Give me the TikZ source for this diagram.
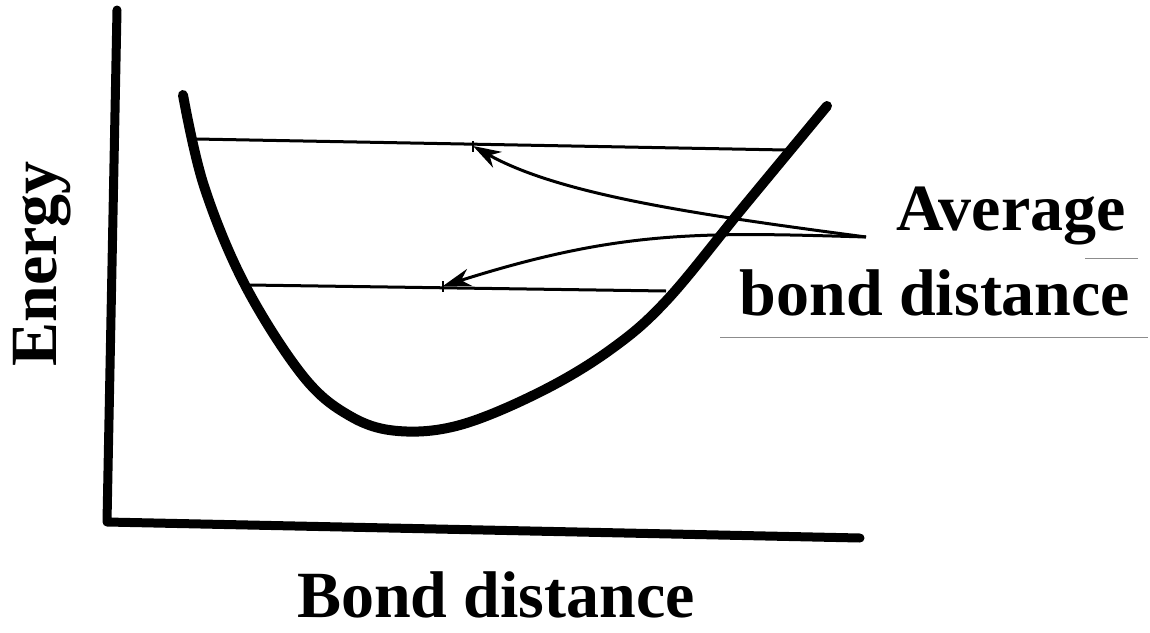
\documentclass[tikz,border=0pt]{standalone}
\usepackage{fontspec}
\setmainfont{Liberation Serif}
\usetikzlibrary{arrows.meta}
\begin{document}
\begin{tikzpicture}[x=1pt,y=-1pt,
  axisline/.style={line width=9pt,line cap=round,line join=round},
  wellcurve/.style={line width=10pt,line cap=round},
  levelline/.style={line width=3pt},
  ptrline/.style={line width=3pt,-{Stealth[length=28pt,width=18pt,inset=9pt]}},
  lbl/.style={font=\bfseries\fontsize{66}{70}\selectfont,inner sep=0pt},
  scan/.style={line width=0.8pt,draw=black!45}]
\useasboundingbox (0,0) rectangle (1150,632);
% axes
\coordinate (ytop) at (117,10);
\coordinate (origin) at (107,522);
\coordinate (xend) at (860,538);
\draw[axisline] (ytop) -- (origin) -- (xend);
% potential well
\draw[wellcurve] plot[smooth,tension=0.6] coordinates {(183,95) (204,186) (245,285) (303,376) (350,416) (398,431) (460,425) (540,392) (610,350) (667,300) (745,205) (827,106)};
% levels
\coordinate (l1a) at (196,139);
\coordinate (l1b) at (786,150);
\coordinate (l2a) at (249,285);
\coordinate (l2b) at (666,291);
\draw[levelline] (l1a) -- (l1b);
\draw[levelline] (l2a) -- (l2b);
\coordinate (t1) at (473,146);
\coordinate (t2) at (443,286);
\draw[line width=2pt] (473,141) -- (473,152);
\draw[line width=2pt] (443,281) -- (443,292);
% labels
\node[lbl] (avg) at (1011,216) {Average};
\node[lbl] (bd) at (935,293) {bond distance};
\node[lbl] (xlab) at (496,595) {Bond distance};
\node[lbl,rotate=90] (ylab) at (42,264) {Energy};
% arrows
\coordinate (src) at (866,237);
\draw[ptrline] (src) .. controls (700,215) and (560,195) .. (t1);
\draw[ptrline] (src) .. controls (700,232) and (620,230) .. (t2);
% faint scan lines
\draw[scan] (720,337) -- (1148,337);
\draw[scan] (1085,258) -- (1138,258);
\end{tikzpicture}
\end{document}
